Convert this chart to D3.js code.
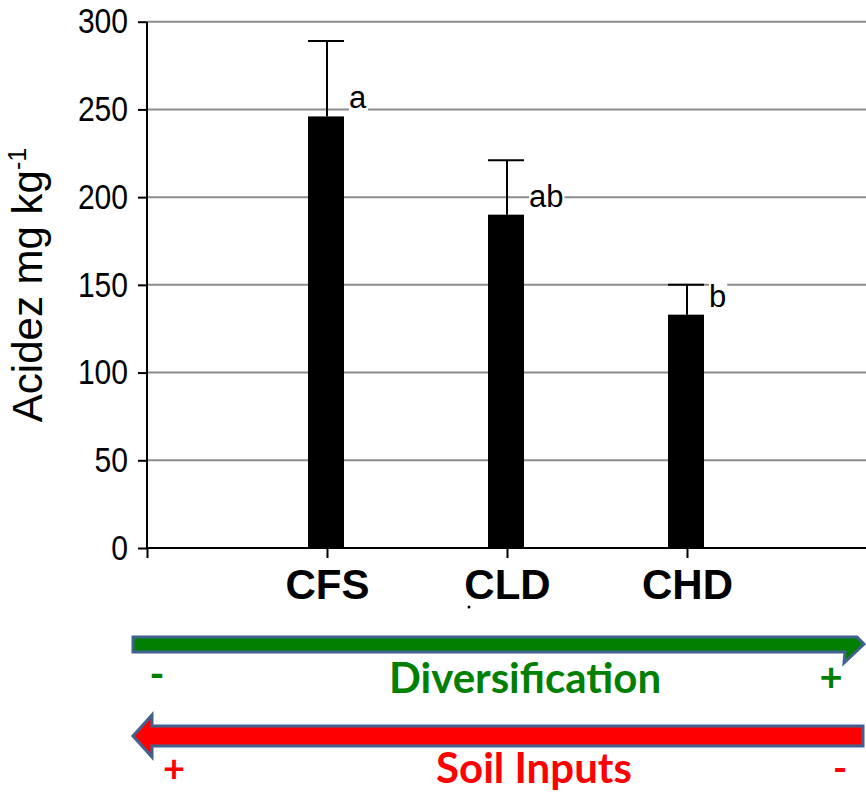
<!DOCTYPE html>
<html>
<head>
<meta charset="utf-8">
<title>Acidez</title>
<script src="https://d3js.org/d3.v7.min.js"></script>
<style>
	body { margin: 0; background: #fff; }
	svg { display: block; }
	.grid line { stroke: #8c8c8c; stroke-width: 2; }
	.axis path, .axis line { stroke: #000; stroke-width: 2; }
	.ytick text { font-family: "Liberation Sans", Arial, sans-serif; font-size: 35px; fill: #000; }
	.xtick text { font-family: "Liberation Sans", Arial, sans-serif; font-size: 42px; font-weight: bold; fill: #000; }
	.ylabel { font-family: "Liberation Sans", Arial, sans-serif; font-size: 42px; fill: #000; }
	.letter { font-family: "Liberation Sans", Arial, sans-serif; font-size: 31px; fill: #000; }
	.note { font-family: Lato, "Open Sans", sans-serif; font-weight: bold; }
</style>
</head>
<body>
<svg width="866" height="792"></svg>
<script>
	// data
	var categories = ["CFS", "CLD", "CHD"];
	var means = [246, 190, 133];
	var upper = [289, 221, 150];   // top of error bar
	var letters = ["a", "ab", "b"];
	var yTicks = [0, 50, 100, 150, 200, 250, 300];

	var svg = d3.select("svg"),
		width = +svg.attr("width"),
		height = +svg.attr("height");

	var x0 = 147, yBottom = 548, yTop = 21.7;

	// first and last slots are empty, the three bars sit on the inner ticks
	var x = d3.scalePoint()
		.domain(["_start"].concat(categories).concat(["_end"]))
		.range([x0, x0 + 720]);

	var y = d3.scaleLinear()
		.domain([0, 300])
		.range([yBottom, yTop]);

	var barW = 36;

	// gridlines
	svg.append("g")
		.attr("class", "grid")
		.selectAll("line")
		.data(yTicks.filter(function(d) { return d > 0; }))
		.enter().append("line")
		.attr("x1", x0).attr("x2", width)
		.attr("y1", function(d) { return y(d); })
		.attr("y2", function(d) { return y(d); });

	// letters with white boxes that cut the gridlines
	var lab = svg.append("g");

	// bars
	svg.append("g")
		.selectAll("rect")
		.data(categories)
		.enter().append("rect")
		.attr("x", function(d) { return x(d) - 1 - barW / 2; })
		.attr("width", barW)
		.attr("y", function(d, i) { return y(means[i]); })
		.attr("height", function(d, i) { return y(0) - y(means[i]); })
		.attr("fill", "#000");

	// error bars
	var eb = svg.append("g").attr("stroke", "#000").attr("stroke-width", 2);
	categories.forEach(function(c, i) {
		eb.append("line")
			.attr("x1", x(c)).attr("x2", x(c))
			.attr("y1", y(means[i])).attr("y2", y(upper[i]));
		eb.append("line")
			.attr("x1", x(c) - 1 - barW / 2).attr("x2", x(c) - 1 + barW / 2)
			.attr("y1", y(upper[i])).attr("y2", y(upper[i]));
	});

	categories.forEach(function(c, i) {
		var t = lab.append("text")
			.attr("class", "letter")
			.attr("x", x(c) - 1 + barW / 2 + 5)
			.attr("y", y(means[i]) - 8)
			.text(letters[i]);
		var bb = t.node().getBBox();
		lab.insert("rect", "text")
			.attr("x", bb.x).attr("y", bb.y + 4)
			.attr("width", bb.width + 1).attr("height", bb.height - 6)
			.attr("fill", "#fff");
	});

	// y axis
	var yAxis = svg.append("g")
		.attr("class", "axis ytick")
		.attr("transform", "translate(" + x0 + ",0)")
		.call(d3.axisLeft(y).tickValues(yTicks).tickSize(9).tickSizeOuter(0));
	yAxis.select(".domain").attr("d", "M0," + yBottom + "V" + yTop);
	yAxis.selectAll("text")
		.attr("x", -22)
		.attr("transform", "scale(0.86,1)");

	// x axis
	var xAxis = svg.append("g")
		.attr("class", "axis xtick")
		.attr("transform", "translate(0," + yBottom + ")")
		.call(d3.axisBottom(x)
			.tickValues(["_start"].concat(categories))
			.tickFormat(function(d) { return d.charAt(0) == "_" ? "" : d; })
			.tickSize(10)
			.tickSizeOuter(0));
	xAxis.select(".domain").attr("d", "M" + x0 + ",0H" + width);
	xAxis.selectAll("text").attr("y", 51).attr("dy", 0);

	// stray mark under CLD
	svg.append("circle")
		.attr("cx", x("CLD") - 38).attr("cy", 607).attr("r", 1.5).attr("fill", "#000");

	// y axis title
	var yl = svg.append("text")
		.attr("class", "ylabel")
		.attr("transform", "translate(42,285) rotate(-90)")
		.attr("text-anchor", "middle");
	yl.append("tspan").text("Acidez mg kg");
	yl.append("tspan").attr("font-size", "25px").attr("dy", "-16").text("-1");

	// arrows under the chart
	var outline = "#41628f";
	var green = "#017f01", red = "#ff0000";

	svg.append("path")
		.attr("d", "M133,637 H857 L864,644 L844,663 L845,652 H133 Z")
		.attr("fill", green)
		.attr("stroke", outline)
		.attr("stroke-width", 3)
		.attr("stroke-linejoin", "miter");

	svg.append("path")
		.attr("d", "M863,726 H152 V715 L133,736 L152,757 V746 H863 Z")
		.attr("fill", red)
		.attr("stroke", outline)
		.attr("stroke-width", 3)
		.attr("stroke-linejoin", "miter");

	var notes = [
		{ t: "-", x: 157, y: 688, s: 40, c: green },
		{ t: "Diversification", x: 525, y: 693, s: 42, c: green },
		{ t: "+", x: 831, y: 691, s: 40, c: green },
		{ t: "+", x: 174, y: 782, s: 38, c: red },
		{ t: "Soil Inputs", x: 534, y: 783, s: 42, c: red },
		{ t: "-", x: 840, y: 782, s: 38, c: red }
	];
	svg.append("g")
		.selectAll("text")
		.data(notes)
		.enter().append("text")
		.attr("class", "note")
		.attr("x", function(d) { return d.x; })
		.attr("y", function(d) { return d.y; })
		.attr("text-anchor", "middle")
		.attr("font-size", function(d) { return d.s + "px"; })
		.attr("fill", function(d) { return d.c; })
		.text(function(d) { return d.t; });
</script>
</body>
</html>
